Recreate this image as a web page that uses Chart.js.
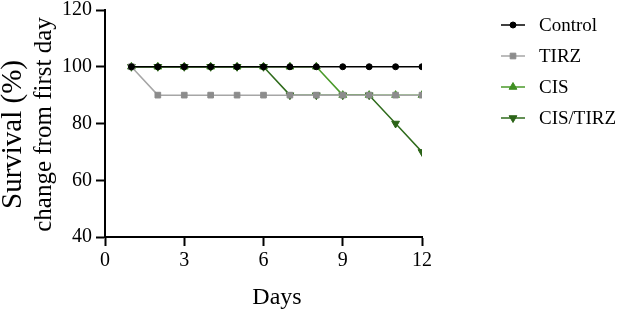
<!DOCTYPE html>
<html>
<head>
<meta charset="utf-8">
<script src="https://cdn.jsdelivr.net/npm/chart.js@4"></script>
<style>
html,body{margin:0;padding:0;background:#fff;}
#wrap{width:617px;height:312px;}
</style>
</head>
<body>
<div id="wrap"><canvas id="c" width="617" height="312"></canvas></div>
<script>
const days = [1,2,3,4,5,6,7,8,9,10,11,12];
const seriesNames = ["Control","TIRZ","CIS","CIS/TIRZ"];
const control  = [100,100,100,100,100,100,100,100,100,100,100,100];
const tirz     = [100,90,90,90,90,90,90,90,90,90,90,90];
const cis      = [100,100,100,100,100,100,100,100,90,90,90,90];
const cisTirz  = [100,100,100,100,100,100,90,90,90,90,80,70];
const xTicks = [0,3,6,9,12];
const yTicks = [40,60,80,100,120];
const xTitle = "Days";
const yTitle = ["Survival (%)","change from first day"];

const SERIF = "'Liberation Serif','Times New Roman',serif";
const toPts = arr => arr.map((v,i)=>({x:days[i], y:v}));

const styles = [
  {color:"#000000", line:"#000000", pointStyle:"circle", radius:3, rotation:0},
  {color:"#8c8c8c", line:"#a6a6a6", pointStyle:"rect", radius:4, rotation:0},
  {color:"#3f8f22", line:"#4a9a2a", pointStyle:"triangle", radius:4.5, rotation:0},
  {color:"#2c6418", line:"#2f6b1c", pointStyle:"triangle", radius:4.5, rotation:180}
];
const allData = [control, tirz, cis, cisTirz];

const datasets = allData.map((arr,i)=>({
  label: seriesNames[i],
  data: toPts(arr),
  borderColor: styles[i].line,
  backgroundColor: styles[i].color,
  pointBackgroundColor: styles[i].color,
  pointBorderColor: styles[i].color,
  pointStyle: styles[i].pointStyle,
  pointRadius: styles[i].radius,
  pointRotation: styles[i].rotation,
  pointBorderWidth: 1,
  borderWidth: 1.5,
  tension: 0,
  fill: false
}));

const titlesPlugin = {
  id: 'titles',
  afterDraw(chart){
    const ctx = chart.ctx;
    const cy = (chart.chartArea.top + chart.chartArea.bottom)/2;
    ctx.save();
    ctx.fillStyle = "#000";
    ctx.textAlign = "center";
    ctx.textBaseline = "middle";
    ctx.translate(13, cy + 11);
    ctx.rotate(-Math.PI/2);
    ctx.font = "29px " + SERIF;
    ctx.fillText(yTitle[0], 0, 0);
    ctx.restore();
    ctx.save();
    ctx.fillStyle = "#000";
    ctx.textAlign = "center";
    ctx.textBaseline = "middle";
    ctx.translate(44, cy + 1);
    ctx.rotate(-Math.PI/2);
    ctx.font = "25px " + SERIF;
    ctx.fillText(yTitle[1], 0, 0);
    ctx.restore();
    ctx.save();
    ctx.fillStyle = "#000";
    ctx.textAlign = "center";
    ctx.textBaseline = "middle";
    ctx.font = "24px " + SERIF;
    ctx.fillText(xTitle, 277, 298);
    ctx.restore();
  }
};

function drawMarker(ctx, style, radius, rotation, x, y, color){
  if (Chart.helpers && Chart.helpers.drawPoint){
    ctx.fillStyle = color; ctx.strokeStyle = color; ctx.lineWidth = 1;
    Chart.helpers.drawPoint(ctx, {pointStyle: style, radius: radius, rotation: rotation, borderWidth:1}, x, y);
  }
}

const legendPlugin = {
  id: 'customLegend',
  afterDraw(chart){
    const ctx = chart.ctx;
    const x0 = 501, x1 = 525, tx = 539;
    const y0 = 25, dy = 31;
    chart.data.datasets.forEach((ds,i)=>{
      const y = y0 + i*dy;
      ctx.save();
      ctx.strokeStyle = ds.borderColor;
      ctx.lineWidth = 1.5;
      ctx.beginPath(); ctx.moveTo(x0,y); ctx.lineTo(x1,y); ctx.stroke();
      drawMarker(ctx, ds.pointStyle, ds.pointRadius, ds.pointRotation, (x0+x1)/2, y, ds.pointBackgroundColor);
      ctx.fillStyle = "#000";
      ctx.font = "19px " + SERIF;
      ctx.textAlign = "left";
      ctx.textBaseline = "middle";
      ctx.fillText(ds.label, tx, y + 1);
      ctx.restore();
    });
  }
};

new Chart(document.getElementById('c'), {
  type: 'line',
  data: { datasets },
  options: {
    responsive: false,
    animation: false,
    devicePixelRatio: 1,
    layout: { padding: { top: 10, right: 195, left: 0, bottom: 0 } },
    plugins: { legend: { display: false }, tooltip: { enabled: false } },
    scales: {
      x: {
        type: 'linear',
        min: 0, max: 12,
        afterBuildTicks(scale){ scale.ticks = xTicks.map(v=>({value:v})); },
        afterFit(scale){ scale.height = 75; },
        grid: { display: true, drawOnChartArea: false, drawTicks: true, tickLength: 9, tickWidth: 2, tickColor: "#000" },
        border: { display: true, color: "#000", width: 2 },
        ticks: { color: "#000", font: { family: SERIF, size: 20 }, padding: 3, maxRotation: 0 },
        title: { display: false }
      },
      y: {
        type: 'linear',
        min: 40, max: 120,
        afterBuildTicks(scale){ scale.ticks = yTicks.map(v=>({value:v})); },
        afterFit(scale){ scale.width = 105; },
        grid: { display: true, drawOnChartArea: false, drawTicks: true, tickLength: 9, tickWidth: 2, tickColor: "#000" },
        border: { display: true, color: "#000", width: 2 },
        ticks: { color: "#000", font: { family: SERIF, size: 20, lineHeight: 0.6 }, padding: 4 }
      }
    }
  },
  plugins: [titlesPlugin, legendPlugin]
});
</script>
</body>
</html>
